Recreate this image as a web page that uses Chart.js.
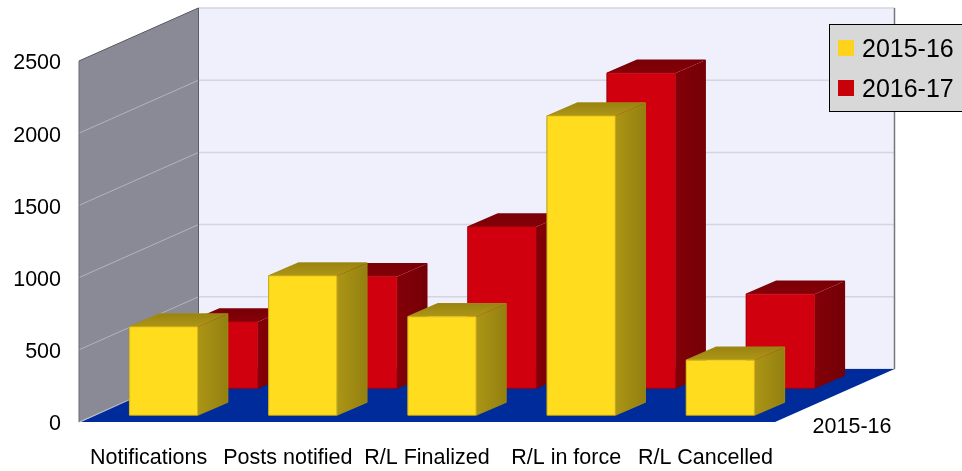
<!DOCTYPE html>
<html>
<head>
<meta charset="utf-8">
<title>Notifications and R/L</title>
<script src="https://cdn.jsdelivr.net/npm/chart.js@4"></script>
<style>
html, body { margin: 0; padding: 0; background: #fff; }
#wrap { width: 962px; height: 471px; }
</style>
</head>
<body>
<div id="wrap"><canvas id="myChart" width="962" height="471"></canvas></div>
<script>
const categories = ['Notifications', 'Posts notified', 'R/L Finalized', 'R/L in force', 'R/L Cancelled'];
const values1516 = [610, 963, 680, 2070, 380];
const values1617 = [457, 770, 1115, 2180, 650];
const yTicks = [0, 500, 1000, 1500, 2000, 2500];
const depthLabel = '2015-16';

const FONT = '"Liberation Sans", Arial, sans-serif';
const WALL = { dx: 119.5, dy: -53 };
const BAR_DEPTH = { dx: 30, dy: -13 };

function poly(ctx, pts, fill) {
    ctx.beginPath();
    pts.forEach((p, i) => i ? ctx.lineTo(p[0], p[1]) : ctx.moveTo(p[0], p[1]));
    ctx.closePath();
    ctx.fillStyle = fill;
    ctx.fill();
}

function line(ctx, x1, y1, x2, y2, color, width) {
    ctx.beginPath();
    ctx.moveTo(x1, y1);
    ctx.lineTo(x2, y2);
    ctx.strokeStyle = color;
    ctx.lineWidth = width;
    ctx.stroke();
}

// paredes y piso, detras de las barras
const roomPlugin = {
    id: 'room',
    beforeDatasetsDraw(chart) {
        const ctx = chart.ctx;
        const { left, right, top, bottom } = chart.chartArea;
        const dx = WALL.dx, dy = WALL.dy;
        ctx.save();
        poly(ctx, [[left + dx, top + dy], [right + dx, top + dy], [right + dx, bottom + dy], [left + dx, bottom + dy]], '#f0f0fd');
        poly(ctx, [[left, top], [left + dx, top + dy], [left + dx, bottom + dy], [left, bottom]], '#8a8a96');
        chart.scales.y.ticks.forEach(t => {
            const y = chart.scales.y.getPixelForValue(t.value);
            line(ctx, left, y, left + dx, y + dy, '#b4b4bc', 1);
            line(ctx, left + dx, y + dy, right + dx, y + dy, '#d4d4e2', 1.5);
        });
        line(ctx, left, top, left + dx, top + dy, '#55555c', 1);
        line(ctx, left, top, left, bottom, '#6a6a72', 1);
        line(ctx, left + dx, top + dy, left + dx, bottom + dy, '#5c5c64', 1);
        line(ctx, right + dx, top + dy, right + dx, bottom + dy, '#77777c', 1.5);
        poly(ctx, [[left + 2, bottom], [left + dx, bottom + dy], [right + dx, bottom + dy], [right, bottom]], '#002b9a');
        ctx.restore();
    },
    // cajas 3D a partir de las posiciones que da Chart.js
    beforeDatasetDraw(chart, args) {
        const ctx = chart.ctx;
        const ds = chart.data.datasets[args.index];
        const meta = chart.getDatasetMeta(args.index);
        ctx.save();
        ctx.lineJoin = 'round';
        meta.data.forEach(bar => {
            const x0 = bar.x - bar.width / 2 + ds.shift.dx;
            const x1 = bar.x + bar.width / 2 + ds.shift.dx;
            const y0 = bar.y + ds.shift.dy;
            const y1 = bar.base + ds.shift.dy;
            const bx = BAR_DEPTH.dx, by = BAR_DEPTH.dy;

            // contorno redondeado de la caja
            ctx.beginPath();
            ctx.moveTo(x0, y0);
            ctx.lineTo(x0 + bx, y0 + by);
            ctx.lineTo(x1 + bx, y0 + by);
            ctx.lineTo(x1 + bx, y1 + by);
            ctx.lineTo(x1, y1);
            ctx.lineTo(x0, y1);
            ctx.closePath();
            ctx.strokeStyle = ds.outlineColor;
            ctx.lineWidth = 1.5;
            ctx.stroke();

            const side = ctx.createLinearGradient(x1, 0, x1 + bx, 0);
            side.addColorStop(0, ds.sideFrom);
            side.addColorStop(1, ds.sideTo);
            poly(ctx, [[x1, y0], [x1 + bx, y0 + by], [x1 + bx, y1 + by], [x1, y1]], side);

            const roof = ctx.createLinearGradient(0, y0 + by, 0, y0);
            roof.addColorStop(0, ds.topFrom);
            roof.addColorStop(1, ds.topTo);
            poly(ctx, [[x0, y0], [x0 + bx, y0 + by], [x1 + bx, y0 + by], [x1, y0]], roof);

            poly(ctx, [[x0, y0], [x1, y0], [x1, y1], [x0, y1]], ds.backgroundColor);
            ctx.strokeStyle = ds.edgeColor;
            ctx.lineWidth = 0.8;
            ctx.strokeRect(x0, y0, x1 - x0, y1 - y0);
        });
        ctx.restore();
        return false;
    },
    afterDraw(chart) {
        const ctx = chart.ctx;
        const yScale = chart.scales.y;
        ctx.save();
        ctx.fillStyle = '#000';
        ctx.font = '21.5px ' + FONT;
        ctx.textBaseline = 'middle';
        ctx.textAlign = 'right';
        yTicks.forEach(v => ctx.fillText(String(v), 61, yScale.getPixelForValue(v) + 2.5));
        ctx.textAlign = 'center';
        ctx.fillText(depthLabel, 852, 427);

        // leyenda
        ctx.fillStyle = '#d8d8d8';
        ctx.fillRect(829.5, 24.5, 133, 87);
        ctx.strokeStyle = '#000';
        ctx.lineWidth = 1;
        ctx.strokeRect(829.5, 24.5, 133, 87);
        ctx.font = '25px ' + FONT;
        ctx.textAlign = 'left';
        chart.data.datasets.forEach((ds, i) => {
            const y = 48 + i * 40;
            ctx.fillStyle = ds.legendColor;
            ctx.fillRect(838, y - 8, 16, 16);
            ctx.fillStyle = '#000';
            ctx.fillText(ds.label, 862, y + 2);
        });
        ctx.restore();
    }
};

const ctx = document.getElementById('myChart').getContext('2d');
new Chart(ctx, {
    type: 'bar',
    data: {
        labels: categories,
        datasets: [
            {
                label: '2015-16',
                data: values1516,
                backgroundColor: '#ffdc1e',
                legendColor: '#ffd21e',
                edgeColor: '#e0bf1c',
                outlineColor: '#a08a14',
                topFrom: '#9a8412',
                topTo: '#ad9616',
                sideFrom: '#ac9616',
                sideTo: '#938010',
                shift: { dx: 15, dy: -7 }
            },
            {
                label: '2016-17',
                data: values1617,
                backgroundColor: '#d1000e',
                legendColor: '#c8000a',
                edgeColor: '#c0000c',
                outlineColor: '#7c0008',
                topFrom: '#780006',
                topTo: '#860008',
                sideFrom: '#840008',
                sideTo: '#740006',
                shift: { dx: 75, dy: -34 }
            }
        ]
    },
    options: {
        responsive: false,
        animation: false,
        layout: { padding: { left: 0, right: 187, top: 61, bottom: 0 } },
        datasets: { bar: { grouped: false, categoryPercentage: 0.488, barPercentage: 1 } },
        plugins: { legend: { display: false }, tooltip: { enabled: false } },
        scales: {
            x: {
                grid: { display: false },
                border: { display: false },
                afterFit(scale) { scale.height = 49; },
                ticks: {
                    color: '#000',
                    padding: 15,
                    maxRotation: 0,
                    autoSkip: false,
                    font: { family: FONT, size: 21.5 }
                }
            },
            y: {
                min: 0,
                max: 2500,
                grid: { display: false },
                border: { display: false },
                afterFit(scale) { scale.width = 79; },
                afterBuildTicks(scale) { scale.ticks = yTicks.map(v => ({ value: v })); },
                ticks: { display: false }
            }
        }
    },
    plugins: [roomPlugin]
});
</script>
</body>
</html>
